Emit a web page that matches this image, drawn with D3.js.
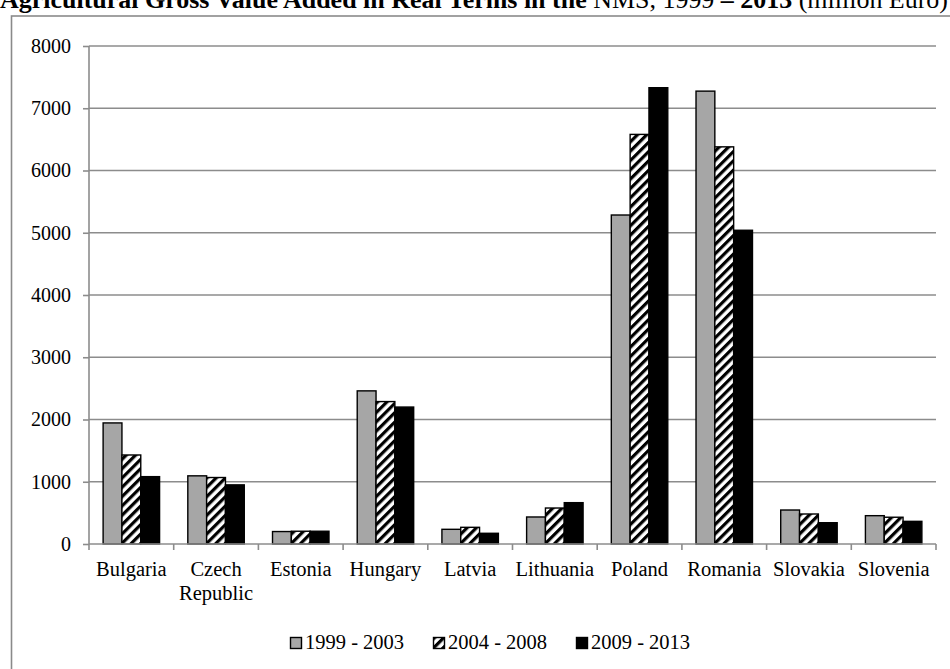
<!DOCTYPE html>
<html><head><meta charset="utf-8">
<script src="https://cdn.jsdelivr.net/npm/d3@7"></script>
<style>
html,body{margin:0;padding:0;background:#fff;overflow:hidden}
text{font-family:"Liberation Serif","Times New Roman",serif;fill:#000}
</style></head>
<body><svg id="c" width="950" height="669"></svg>
<script>
const countries = ["Bulgaria","Czech Republic","Estonia","Hungary","Latvia","Lithuania","Poland","Romania","Slovakia","Slovenia"];
const seriesNames = ["1999 - 2003","2004 - 2008","2009 - 2013"];
const s1999_2003 = [1945,1095,200,2460,236,434,5285,7275,546,455];
const s2004_2008 = [1430,1068,205,2288,268,578,6580,6380,482,430];
const s2009_2013 = [1082,950,205,2200,172,664,7330,5040,342,364];
const yTicks = [0,1000,2000,3000,4000,5000,6000,7000,8000];

const svg = d3.select("#c");
const defs = svg.append("defs");
const pat = defs.append("pattern").attr("id","hatch").attr("patternUnits","userSpaceOnUse")
  .attr("width",6.6).attr("height",6.6).attr("patternTransform","rotate(45)");
pat.append("rect").attr("width",6.6).attr("height",6.6).attr("fill","#fff");
pat.append("rect").attr("width",3.2).attr("height",6.6).attr("fill","#000");

const fills = ["#a6a6a6","url(#hatch)","#000"];
const series = [s1999_2003,s2004_2008,s2009_2013];

// frame
svg.append("rect").attr("x",11.5).attr("y",16).attr("width",950).attr("height",700)
  .attr("fill","none").attr("stroke","#8a8a8a").attr("stroke-width",1.6);

// title (partially cropped at the top edge, as in the reference)
const title = svg.append("text").attr("x",0).attr("y",8).style("font-size","26px");
title.append("tspan").style("font-weight","bold").text("Agricultural Gross Value Added in Real Terms in the ");
title.append("tspan").text("NMS, 1999 ");
title.append("tspan").style("font-weight","bold").text("– 2013 ");
title.append("tspan").text("(million Euro)");
const tw = title.node().getComputedTextLength();
if (tw > 0) title.attr("textLength", 948).attr("lengthAdjust","spacingAndGlyphs");

const pLeft = 89, pRight = 936, pTop = 46, pBottom = 544;
const y = d3.scaleLinear().domain([0,8000]).range([pBottom, pTop]);
const x0 = d3.scaleBand().domain(countries).range([pLeft,pRight]).paddingInner(0).paddingOuter(0);
const bw = x0.bandwidth()/4.5;
const x1 = d3.scaleBand().domain([0,1,2]).range([0,bw*3]);

// gridlines
svg.append("g").selectAll("line").data(yTicks.filter(d=>d>0)).join("line")
  .attr("x1",pLeft).attr("x2",pRight).attr("y1",d=>y(d)).attr("y2",d=>y(d))
  .attr("stroke","#8c8c8c").attr("stroke-width",1.6);

// bars
const groups = svg.append("g").selectAll("g").data(countries).join("g")
  .attr("transform",d=>`translate(${x0(d)+bw*0.75},0)`);
groups.selectAll("rect").data((d,i)=>series.map((s,k)=>({k,v:s[i]}))).join("rect")
  .attr("x",d=>x1(d.k)).attr("width",x1.bandwidth())
  .attr("y",d=>y(d.v)).attr("height",d=>pBottom-y(d.v))
  .attr("fill",d=>fills[d.k]).attr("stroke","#000").attr("stroke-width",1.4);

// y axis
const yAxis = d3.axisLeft(y).tickValues(yTicks).tickSize(6).tickPadding(12).tickFormat(d3.format("d"));
const ga = svg.append("g").attr("transform",`translate(${pLeft},0)`).call(yAxis);
ga.select(".domain").attr("stroke","#8c8c8c").attr("stroke-width",1.6).attr("d",`M0,${pTop}V${pBottom}`);
ga.selectAll(".tick line").attr("stroke","#8c8c8c").attr("stroke-width",1.6);
ga.selectAll("text").style("font-size","20px").style("font-family","Liberation Serif");

// x axis
const xAxis = d3.axisBottom(x0).tickSize(0).tickFormat("");
const gx = svg.append("g").attr("transform",`translate(0,${pBottom})`).call(xAxis);
gx.select(".domain").attr("stroke","#8c8c8c").attr("stroke-width",1.6).attr("d",`M${pLeft},0H${pRight}`);
gx.selectAll(".tick").remove();
const bounds = countries.map(c=>x0(c)).concat([pRight]);
gx.selectAll("line.tk").data(bounds).join("line").attr("class","tk")
  .attr("x1",d=>d).attr("x2",d=>d).attr("y1",0).attr("y2",6)
  .attr("stroke","#8c8c8c").attr("stroke-width",1.6);
const lbl = svg.append("g").selectAll("text").data(countries).join("text")
  .attr("x",d=>x0(d)+x0.bandwidth()/2).attr("y",576).attr("text-anchor","middle")
  .style("font-size","20.5px");
lbl.each(function(d){
  const words = d.split(" ");
  const t = d3.select(this);
  if(words.length>1){
    words.forEach((w,i)=>t.append("tspan").attr("x",x0(d)+x0.bandwidth()/2).attr("dy",i?24:0).text(w));
  } else t.text(d);
});

// legend
const legX = [290,433,576];
const leg = svg.append("g").selectAll("g").data(seriesNames).join("g")
  .attr("transform",(d,i)=>`translate(${legX[i]},637)`);
leg.append("rect").attr("x",0.5).attr("y",0.5).attr("width",11).attr("height",11)
  .attr("fill",(d,i)=>fills[i]).attr("stroke","#000").attr("stroke-width",1.4);
leg.append("text").attr("x",15).attr("y",12).style("font-size","20.5px").text(d=>d);
</script></body></html>
